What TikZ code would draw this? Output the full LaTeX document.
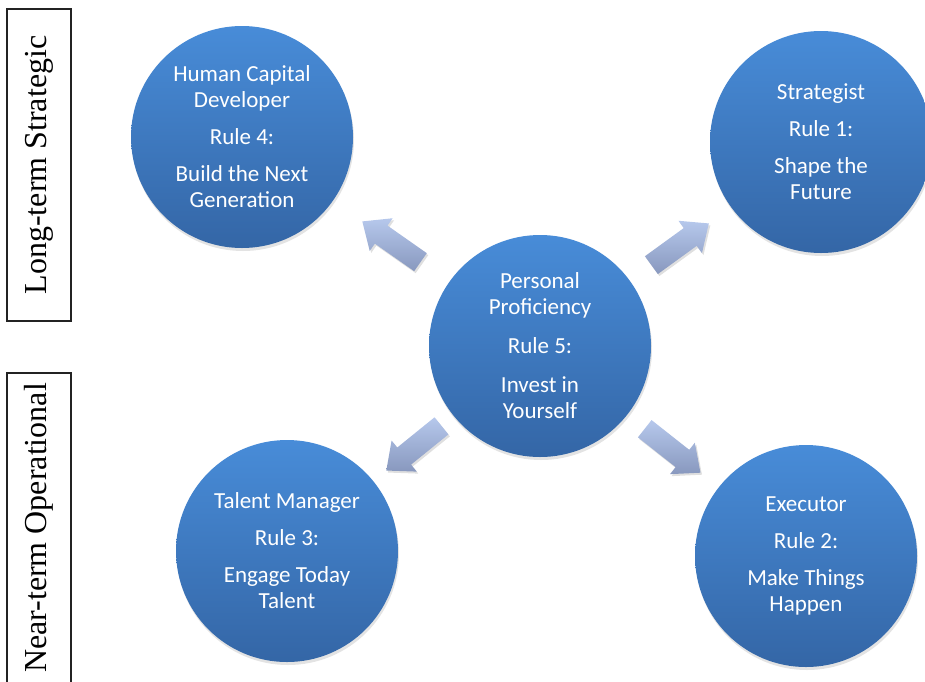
\documentclass[tikz,border=0pt]{standalone}
\usepackage{fontspec}
\setmainfont{Carlito}
\newfontfamily\timesfont{Liberation Serif}
\usetikzlibrary{calc,shadows}
\definecolor{circtop}{RGB}{72,140,216}
\definecolor{circbot}{RGB}{52,102,166}
\definecolor{arrtop}{RGB}{182,200,236}
\definecolor{arrbot}{RGB}{136,152,190}
\definecolor{boxline}{RGB}{35,35,35}
\begin{document}
\begin{tikzpicture}[x=1pt,y=-1pt,
  rolecircle/.style={circle, minimum size=222pt, inner sep=0pt,
    top color=circtop, bottom color=circbot, draw=none, text=white,
    align=center, font=\fontsize{23}{26}\selectfont,
    drop shadow={opacity=0.22, shadow xshift=1pt, shadow yshift=-3pt}},
  sidelabel/.style={draw=boxline, line width=1.5pt, rotate=90,
    minimum height=64pt, inner sep=0pt,
    font=\timesfont\fontsize{32}{36}\selectfont},
  blockarrow/.pic={
    \shade[top color=arrtop, bottom color=arrbot,
      drop shadow={opacity=0.25, shadow xshift=1.5pt, shadow yshift=-2pt}]
      (-36,-11) -- (12,-11) -- (12,-20) -- (35,0) -- (12,20) -- (12,11)
      -- (-36,11) -- cycle;
  }
]
\useasboundingbox (0,0) rectangle (925,681);

\node[sidelabel, minimum width=312pt] (lt) at (39,165) {Long-term Strategic};
\node[sidelabel, minimum width=310pt] (nt) at (39,528) {Near-term Operational};

\node[rolecircle] (tl) at (242,137) {Human Capital\\Developer\\[11pt]Rule 4:\\[11pt]Build the Next\\Generation};
\node[rolecircle] (tr) at (821,142) {Strategist\\[11pt]Rule 1:\\[11pt]Shape the\\Future};
\node[rolecircle] (c) at (540,346) {Personal\\Proficiency\\[13pt]Rule 5:\\[13pt]Invest in\\Yourself};
\node[rolecircle] (bl) at (287,551) {Talent Manager\\[11pt]Rule 3:\\[11pt]Engage Today\\Talent};
\node[rolecircle] (br) at (806,556) {Executor\\[11pt]Rule 2:\\[11pt]Make Things\\Happen};

\foreach \t in {tl,tr,bl,br}{
  \path let \p1=($(\t)-(c)$), \n1={atan2(\y1,\x1)} in
    ($(c)!0.5!(\t)$) pic[rotate=\n1] {blockarrow};
}
\end{tikzpicture}
\end{document}
